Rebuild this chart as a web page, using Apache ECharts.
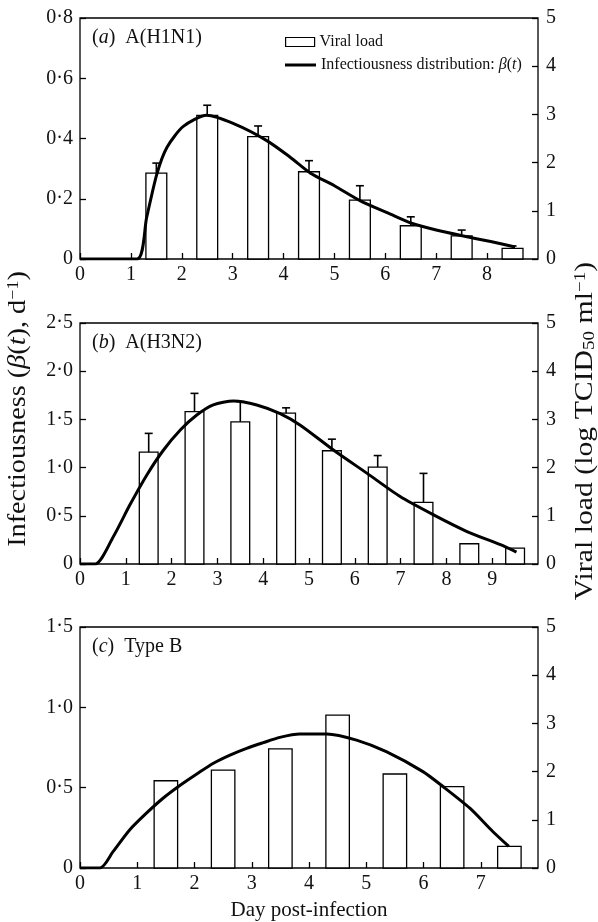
<!DOCTYPE html>
<html>
<head>
<meta charset="utf-8">
<script src="https://cdn.jsdelivr.net/npm/echarts@6/dist/echarts.min.js"></script>
<style>
html, body { margin: 0; padding: 0; background: #fff; }
#chart { width: 598px; height: 922px; }
</style>
</head>
<body>
<div id="chart"></div>
<script>
// ---- data ----
// (a) A(H1N1)
const daysA = [1.5, 2.5, 3.5, 4.5, 5.5, 6.5, 7.5, 8.5];
const loadA = [1.78, 2.98, 2.54, 1.81, 1.22, 0.69, 0.48, 0.22];
const errTopA = [1.99, 3.19, 2.76, 2.04, 1.52, 0.875, 0.6, 0.27];
const betaTA = [0, 1.12, 1.31, 1.51, 1.71, 2.03, 2.49, 3.02, 3.67, 4.13, 4.53, 5.0, 5.51, 6.1, 6.53, 7.0, 7.51, 8.07, 8.55];
const betaA = [0, 0, 0.138, 0.282, 0.371, 0.44, 0.477, 0.449, 0.393, 0.338, 0.285, 0.243, 0.193, 0.149, 0.118, 0.096, 0.077, 0.058, 0.04];

// (b) A(H3N2)
const daysB = [1.5, 2.5, 3.5, 4.5, 5.5, 6.5, 7.5, 8.5, 9.5];
const loadB = [2.32, 3.16, 2.95, 3.13, 2.35, 2.01, 1.28, 0.42, 0.33];
const errTopB = [2.71, 3.54, 3.37, 3.24, 2.59, 2.25, 1.88, null, null];
const betaTB = [0, 0.33, 0.73, 1.09, 1.46, 1.82, 2.19, 2.55, 2.91, 3.35, 3.86, 4.37, 4.81, 5.54, 6.27, 6.99, 7.72, 8.45, 9.18, 9.53];
const betaB = [0, 0, 0.286, 0.614, 0.924, 1.18, 1.39, 1.545, 1.65, 1.69, 1.65, 1.56, 1.44, 1.18, 0.94, 0.70, 0.51, 0.337, 0.20, 0.124];

// (c) Type B
const daysC = [1.5, 2.5, 3.5, 4.5, 5.5, 6.5, 7.5];
const loadC = [1.81, 2.03, 2.47, 3.17, 1.95, 1.69, 0.45];
const errTopC = [null, null, null, null, null, null, null];
const betaTC = [0, 0.35, 0.58, 0.87, 1.16, 1.45, 1.75, 2.04, 2.33, 2.62, 2.91, 3.20, 3.49, 3.84, 4.31, 4.83, 5.35, 5.99, 6.34, 6.81, 7.21, 7.49];
const betaC = [0, 0, 0.103, 0.238, 0.341, 0.434, 0.515, 0.585, 0.652, 0.703, 0.745, 0.78, 0.813, 0.834, 0.834, 0.796, 0.724, 0.60, 0.507, 0.372, 0.227, 0.134];

const panelTags = ['a', 'b', 'c'];
const panelNames = ['A(H1N1)', 'A(H3N2)', 'Type B'];
const dayMax = [9, 10, 8];
const betaMax = [0.8, 2.5, 1.5];
const betaStep = [0.2, 0.5, 0.5];
const loadMax = 5;

const BAR_NAME = 'Viral load';
const LINE_NAME = 'Infectiousness distribution: β(t)';

// ---- layout / style ----
const FONT = "'Liberation Serif', 'DejaVu Serif', serif";
const INK = '#111';
const BAR_W = 0.41; // bar width in days
const gridTops = [18, 323, 627];
const gridH = 241;

const panels = [
  { days: daysA, load: loadA, err: errTopA, t: betaTA, b: betaA },
  { days: daysB, load: loadB, err: errTopB, t: betaTB, b: betaB },
  { days: daysC, load: loadC, err: errTopC, t: betaTC, b: betaC }
];

const fmtDot = (v) => (v === 0 ? '0' : v.toFixed(1).replace('.', '·'));

const chart = echarts.init(document.getElementById('chart'));

const grid = [], xAxis = [], yAxis = [], series = [], title = [];

panels.forEach((p, i) => {
  grid.push({
    left: 80, right: 60, top: gridTops[i], height: gridH,
    show: true, borderColor: '#000', borderWidth: 1.3, backgroundColor: 'transparent'
  });

  xAxis.push({
    gridIndex: i, type: 'value', min: 0, max: dayMax[i], interval: 1,
    axisLine: { show: false },
    axisTick: { inside: true, length: 6, lineStyle: { color: '#000', width: 1.3 } },
    splitLine: { show: false },
    axisLabel: { margin: 6, showMaxLabel: false, color: INK, fontFamily: FONT, fontSize: 20 },
    name: i === 2 ? 'Day post-infection' : '',
    nameLocation: 'middle', nameGap: 32,
    nameTextStyle: { color: INK, fontFamily: FONT, fontSize: 21 }
  });

  yAxis.push({
    gridIndex: i, type: 'value', position: 'left', min: 0, max: betaMax[i], interval: betaStep[i],
    axisLine: { show: false },
    axisTick: { inside: true, length: 6, lineStyle: { color: '#000', width: 1.3 } },
    splitLine: { show: false },
    axisLabel: { margin: 7, color: INK, fontFamily: FONT, fontSize: 20, formatter: fmtDot }
  });
  yAxis.push({
    gridIndex: i, type: 'value', position: 'right', min: 0, max: loadMax, interval: 1,
    axisLine: { show: false },
    axisTick: { inside: true, length: 6, lineStyle: { color: '#000', width: 1.3 } },
    splitLine: { show: false },
    axisLabel: { margin: 8, color: INK, fontFamily: FONT, fontSize: 20 }
  });

  title.push({
    left: 87, top: gridTops[i] + 5,
    text: '({i|' + panelTags[i] + '})  ' + panelNames[i],
    textStyle: {
      color: INK, fontFamily: FONT, fontSize: 20, fontWeight: 'normal',
      rich: { i: { fontStyle: 'italic', fontFamily: FONT, fontSize: 20, color: INK } }
    }
  });

  // viral load bars
  series.push({
    type: 'custom', name: BAR_NAME, xAxisIndex: i, yAxisIndex: 2 * i + 1,
    itemStyle: { color: '#fff', borderColor: '#000' },
    data: p.days.map((d, k) => [d, p.load[k]]),
    renderItem: (params, api) => {
      const x = api.value(0), v = api.value(1);
      const a = api.coord([x - BAR_W / 2, v]);
      const b = api.coord([x + BAR_W / 2, 0]);
      return {
        type: 'rect',
        shape: { x: a[0], y: a[1], width: b[0] - a[0], height: b[1] - a[1] },
        style: { fill: '#fff', stroke: '#000', lineWidth: 1.3 }
      };
    },
    z: 2
  });

  // upper error bars
  const errData = [];
  p.days.forEach((d, k) => { if (p.err[k] != null) errData.push([d, p.load[k], p.err[k]]); });
  series.push({
    type: 'custom', name: 'err' + i, xAxisIndex: i, yAxisIndex: 2 * i + 1,
    data: errData,
    renderItem: (params, api) => {
      const x = api.value(0);
      const lo = api.coord([x, api.value(1)]);
      const hi = api.coord([x, api.value(2)]);
      const st = { stroke: '#000', lineWidth: 1.6 };
      return {
        type: 'group',
        children: [
          { type: 'line', shape: { x1: lo[0], y1: lo[1], x2: hi[0], y2: hi[1] }, style: st },
          { type: 'line', shape: { x1: hi[0] - 4, y1: hi[1], x2: hi[0] + 4, y2: hi[1] }, style: st }
        ]
      };
    },
    z: 3
  });

  // infectiousness curve
  series.push({
    type: 'line', name: LINE_NAME, xAxisIndex: i, yAxisIndex: 2 * i,
    data: p.t.map((x, k) => [x, p.b[k]]),
    symbol: 'none', smooth: 0.25,
    itemStyle: { color: '#000' },
    lineStyle: { color: '#000', width: 3 },
    z: 5
  });
});

const legendText = { color: INK, fontFamily: FONT, fontSize: 16 };

chart.setOption({
  animation: false,
  backgroundColor: '#fff',
  title: title,
  grid: grid,
  xAxis: xAxis,
  yAxis: yAxis,
  legend: [
    {
      data: [BAR_NAME], left: 285, top: 34, padding: 0, selectedMode: false,
      icon: 'rect', itemWidth: 29, itemHeight: 9,
      itemStyle: { color: '#fff', borderColor: '#000', borderWidth: 1.2 },
      textStyle: legendText
    },
    {
      data: [LINE_NAME], left: 285, top: 57, padding: 0, selectedMode: false,
      icon: 'rect', itemWidth: 31, itemHeight: 3,
      itemStyle: { color: '#000', borderWidth: 0 },
      formatter: () => 'Infectiousness distribution: {i|β}({i|t})',
      textStyle: Object.assign({}, legendText, {
        rich: { i: { fontStyle: 'italic', fontFamily: FONT, fontSize: 16, color: INK } }
      })
    }
  ],
  graphic: [
    {
      type: 'text', x: 18, y: 409, rotation: Math.PI / 2, scaleX: 1.13,
      style: {
        text: 'Infectiousness ({i|β}({i|t}), d{sup|−1})',
        fontFamily: FONT, fontSize: 25, fill: INK, align: 'center', verticalAlign: 'middle',
        rich: {
          i: { fontStyle: 'italic', fontFamily: FONT, fontSize: 25, fill: INK },
          sup: { fontFamily: FONT, fontSize: 16, fill: INK, verticalAlign: 'top' }
        }
      }
    },
    {
      type: 'text', x: 585, y: 431, rotation: Math.PI / 2, scaleX: 1.19,
      style: {
        text: 'Viral load (log TCID{sub|50} ml{sup|−1})',
        fontFamily: FONT, fontSize: 25, fill: INK, align: 'center', verticalAlign: 'middle',
        rich: {
          sub: { fontFamily: FONT, fontSize: 16, fill: INK, verticalAlign: 'bottom' },
          sup: { fontFamily: FONT, fontSize: 16, fill: INK, verticalAlign: 'top' }
        }
      }
    }
  ],
  series: series
});
</script>
</body>
</html>
